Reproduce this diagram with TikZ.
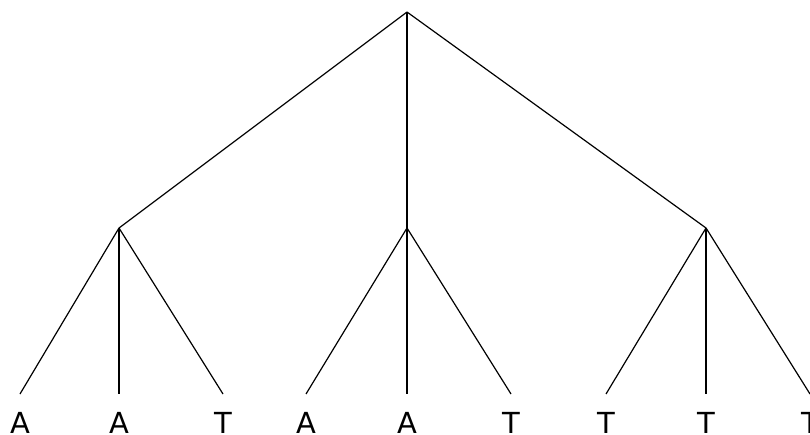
\documentclass[tikz,border=0pt]{standalone}
\usepackage{fontspec}
\setmainfont{DejaVu Sans}
\begin{document}
\begin{tikzpicture}[x=1pt,y=1pt,
  edge/.style={draw=black,line width=1.2pt},
  leaf/.style={anchor=base,inner sep=0pt,font=\fontsize{29}{29}\selectfont}]
\useasboundingbox (0,0) rectangle (810,-435);
\coordinate (r) at (407,-12);
\coordinate (m1) at (119,-228);
\coordinate (m2) at (407,-228);
\coordinate (m3) at (706,-228);
\foreach \n/\x in {1/20,2/119,3/223,4/306,5/407,6/511,7/606,8/706,9/810}
  \coordinate (e\n) at (\x,-394);
\foreach \n/\x/\t in {1/20/A,2/119/A,3/223/T,4/306/A,5/407/A,6/511/T,7/606/T,8/706/T,9/810/T}
  \node[leaf] (l\n) at (\x,-433) {\t};
\draw[edge] (r) -- (m1);
\draw[edge] (r) -- (m2);
\draw[edge] (r) -- (m3);
\draw[edge] (m1) -- (e1);
\draw[edge] (m1) -- (e2);
\draw[edge] (m1) -- (e3);
\draw[edge] (m2) -- (e4);
\draw[edge] (m2) -- (e5);
\draw[edge] (m2) -- (e6);
\draw[edge] (m3) -- (e7);
\draw[edge] (m3) -- (e8);
\draw[edge] (m3) -- (e9);
\end{tikzpicture}
\end{document}
